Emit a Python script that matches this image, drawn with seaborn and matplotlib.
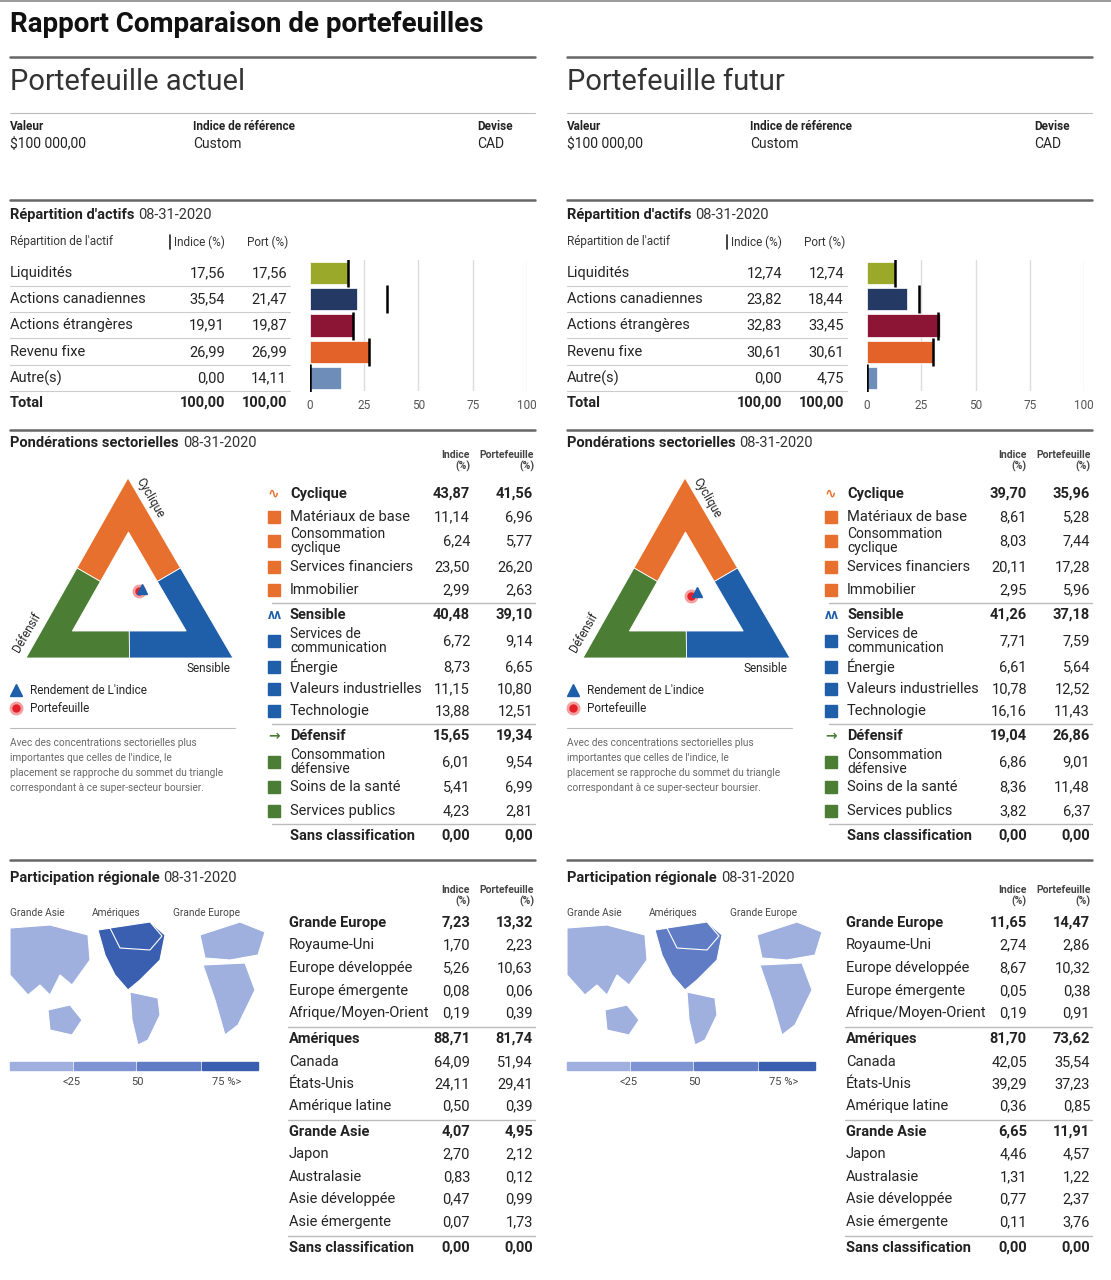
import matplotlib
matplotlib.use("Agg")
import matplotlib.pyplot as plt
import seaborn as sns
import pandas as pd
import numpy as np
from matplotlib.patches import Polygon, Rectangle
from matplotlib.lines import Line2D
from matplotlib import font_manager

# ---------------- DATA ----------------
asset_classes = ["Liquidités", "Actions canadiennes", "Actions étrangères", "Revenu fixe", "Autre(s)"]
asset_index_actuel = [17.56, 35.54, 19.91, 26.99, 0.00]
asset_port_actuel = [17.56, 21.47, 19.87, 26.99, 14.11]
asset_index_futur = [12.74, 23.82, 32.83, 30.61, 0.00]
asset_port_futur = [12.74, 18.44, 33.45, 30.61, 4.75]
asset_totals = ["100,00", "100,00"]
asset_colors = ["#9aa92a", "#243963", "#8c1434", "#e2622a", "#6e8db8"]
bar_ticks = [0, 25, 50, 75, 100]

sector_labels = ["Cyclique", "Matériaux de base", "Consommation\ncyclique", "Services financiers", "Immobilier",
                 "Sensible", "Services de\ncommunication", "Énergie", "Valeurs industrielles", "Technologie",
                 "Défensif", "Consommation\ndéfensive", "Soins de la santé", "Services publics",
                 "Sans classification"]
sector_group = ["C", "C", "C", "C", "C", "S", "S", "S", "S", "S", "D", "D", "D", "D", "N"]
sector_bold = [True, False, False, False, False, True, False, False, False, False, True, False, False, False, True]
sector_index_actuel = [43.87, 11.14, 6.24, 23.50, 2.99, 40.48, 6.72, 8.73, 11.15, 13.88, 15.65, 6.01, 5.41, 4.23, 0.00]
sector_port_actuel = [41.56, 6.96, 5.77, 26.20, 2.63, 39.10, 9.14, 6.65, 10.80, 12.51, 19.34, 9.54, 6.99, 2.81, 0.00]
sector_index_futur = [39.70, 8.61, 8.03, 20.11, 2.95, 41.26, 7.71, 6.61, 10.78, 16.16, 19.04, 6.86, 8.36, 3.82, 0.00]
sector_port_futur = [35.96, 5.28, 7.44, 17.28, 5.96, 37.18, 7.59, 5.64, 12.52, 11.43, 26.86, 9.01, 11.48, 6.37, 0.00]

region_labels = ["Grande Europe", "Royaume-Uni", "Europe développée", "Europe émergente", "Afrique/Moyen-Orient",
                 "Amériques", "Canada", "États-Unis", "Amérique latine",
                 "Grande Asie", "Japon", "Australasie", "Asie développée", "Asie émergente", "Sans classification"]
region_bold = [True, False, False, False, False, True, False, False, False, True, False, False, False, False, True]
region_index_actuel = [7.23, 1.70, 5.26, 0.08, 0.19, 88.71, 64.09, 24.11, 0.50, 4.07, 2.70, 0.83, 0.47, 0.07, 0.00]
region_port_actuel = [13.32, 2.23, 10.63, 0.06, 0.39, 81.74, 51.94, 29.41, 0.39, 4.95, 2.12, 0.12, 0.99, 1.73, 0.00]
region_index_futur = [11.65, 2.74, 8.67, 0.05, 0.19, 81.70, 42.05, 39.29, 0.36, 6.65, 4.46, 1.31, 0.77, 0.11, 0.00]
region_port_futur = [14.47, 2.86, 10.32, 0.38, 0.91, 73.62, 35.54, 37.23, 0.85, 11.91, 4.57, 1.22, 2.37, 3.76, 0.00]

map_scale_labels = ["<25", "50", "75 %>"]
map_scale_colors = ["#9fb0df", "#7f95d3", "#5f7cc4", "#3a5fb0"]

# ---------------- STYLE ----------------
avail = {f.name for f in font_manager.fontManager.ttflist}
fam = [f for f in ["Liberation Sans Narrow", "DejaVu Sans Condensed", "Roboto", "DejaVu Sans"] if f in avail]
plt.rcParams["font.family"] = fam
sns.set_theme(style="white", rc={"font.family": fam})

W, H = 1111, 1280
fig = plt.figure(figsize=(W / 100, H / 100), dpi=100)
fig.patch.set_facecolor("white")
renderer = fig.canvas.get_renderer()
TXT = "#222222"
FS = 10.5


def X(px): return px / W
def Y(py): return 1 - py / H


def txt(x, y, s, size=FS, weight="normal", ha="left", color=TXT, va="center", **kw):
    return fig.text(X(x), Y(y), s, fontsize=size, fontweight=weight, ha=ha, va=va, color=color, **kw)


def titled(x, y, bold, rest):
    t = txt(x, y, bold, size=10.5, weight="bold")
    w = t.get_window_extent(renderer).width
    txt(x + w + 4, y, rest, size=10.5, color="#333333")


def hline(x0, x1, y, lw=1.0, color="#bbbbbb"):
    fig.add_artist(Line2D([X(x0), X(x1)], [Y(y), Y(y)], lw=lw, color=color, transform=fig.transFigure))


def fmt(v):
    return f"{v:.2f}".replace(".", ",")


C_ORANGE, C_BLUE, C_GREEN = "#e8702e", "#1f5ea8", "#4b7d34"

hline(0, 1111, 1, 1.2, "#888888")
txt(10, 24, "Rapport Comparaison de portefeuilles", size=20, weight="bold", color="#111111")


def panel(ox, title, a_idx, a_port, a_tot, s_idx, s_port, r_idx, r_port):
    hline(ox, ox + 525, 57, 1.8, "#666666")
    txt(ox, 82, title, size=21, color="#333333")
    hline(ox, ox + 525, 113, 0.8, "#bbbbbb")
    txt(ox, 127, "Valeur", size=8.5, weight="bold")
    txt(ox, 144, "$100 000,00", size=10)
    txt(ox + 183, 127, "Indice de référence", size=8.5, weight="bold")
    txt(ox + 183, 144, "Custom", size=10)
    txt(ox + 467, 127, "Devise", size=8.5, weight="bold")
    txt(ox + 467, 144, "CAD", size=10)

    # --- asset allocation
    hline(ox, ox + 525, 200, 1.8, "#666666")
    titled(ox, 215, "Répartition d'actifs", "08-31-2020")
    txt(ox, 242, "Répartition de l'actif", size=8.5, color="#333333")
    txt(ox + 215, 242, "Indice (%)", size=8.5, ha="right", color="#333333")
    fig.add_artist(Line2D([X(ox + 160)] * 2, [Y(235), Y(249)], lw=1.2, color="#222222"))
    txt(ox + 278, 242, "Port (%)", size=8.5, ha="right", color="#333333")
    rows_y = [273, 299, 325, 352, 378]
    for i, name in enumerate(asset_classes):
        txt(ox, rows_y[i], name)
        txt(ox + 215, rows_y[i], fmt(a_idx[i]), ha="right")
        txt(ox + 277, rows_y[i], fmt(a_port[i]), ha="right")
        hline(ox, ox + 280, rows_y[i] + 13, 0.8, "#cccccc")
    txt(ox, 403, "Total", weight="bold")
    txt(ox + 215, 403, a_tot, ha="right", weight="bold")
    txt(ox + 277, 403, a_tot, ha="right", weight="bold")

    ax = fig.add_axes([X(ox + 300), Y(391), X(217), 131 / H])
    df = pd.DataFrame({"cls": asset_classes, "port": a_port})
    sns.barplot(data=df, y="cls", x="port", hue="cls", palette=asset_colors, legend=False, saturation=1,
                orient="h", ax=ax, width=0.84, edgecolor="white", linewidth=0.5)
    ax.scatter(a_idx, range(len(asset_classes)), marker="|", s=380, color="black", linewidths=1.8, zorder=5)
    ax.set_xlim(0, 100)
    ax.set_ylim(4.5, -0.5)
    ax.set_xticks(bar_ticks)
    ax.set_xticklabels([str(t) for t in bar_ticks], fontsize=8.5, color="#555555")
    ax.set_yticks([])
    ax.set_xlabel("")
    ax.set_ylabel("")
    for t in bar_ticks[1:]:
        ax.axvline(t, color="#dddddd", lw=1, zorder=0)
    for sp in ax.spines.values():
        sp.set_visible(False)
    ax.tick_params(axis="x", length=0, pad=6)
    ax.set_axisbelow(True)

    # --- sectors
    hline(ox, ox + 525, 430, 1.8, "#666666")
    titled(ox, 443, "Pondérations sectorielles", "08-31-2020")
    for cx, lab in [(ox + 460, "Indice\n(%)"), (ox + 524, "Portefeuille\n(%)")]:
        txt(cx, 461, lab, size=7.5, ha="right", weight="bold", color="#444444", linespacing=1.0)
    sec_y = [494, 517, 541, 567, 590, 615, 641, 667, 689, 711, 736, 762, 787, 811, 836]
    gcol = {"C": C_ORANGE, "S": C_BLUE, "D": C_GREEN}
    for i, lab in enumerate(sector_labels):
        y = sec_y[i]
        g = sector_group[i]
        b = "bold" if sector_bold[i] else "normal"
        if sector_bold[i]:
            if i > 0:
                hline(ox + 262, ox + 525, y - 12, 1.0, "#bbbbbb")
            if g in gcol:
                txt(ox + 258, y, "∿" if g == "C" else ("ʌʌ" if g == "S" else "→"), size=10,
                    weight="bold", color=gcol[g])
        else:
            fig.add_artist(Rectangle((X(ox + 258), Y(y + 6)), X(12), 12 / H, color=gcol[g],
                                     transform=fig.transFigure))
        txt(ox + 280, y, lab, size=FS if "\n" not in lab else 10, weight=b, linespacing=1.0)
        txt(ox + 460, y, fmt(s_idx[i]), ha="right", weight=b)
        txt(ox + 523, y, fmt(s_port[i]), ha="right", weight=b)

    # triangle
    A = np.array([ox + 118, 478.0]); BL = np.array([ox + 16, 658.0]); BR = np.array([ox + 223, 658.0])
    cen = (A + BL + BR) / 3
    IA = cen + (A - cen) * 0.55; IBL = cen + (BL - cen) * 0.55; IBR = cen + (BR - cen) * 0.55
    mL = (A + BL) / 2; mR = (A + BR) / 2; mB = (BL + BR) / 2
    iL = (IA + IBL) / 2; iR = (IA + IBR) / 2; iB = (IBL + IBR) / 2
    P = lambda p: (X(p[0]), Y(p[1]))
    for pts, col in [([A, mR, iR, IA, iL, mL], C_ORANGE),
                     ([mL, iL, IBL, iB, mB, BL], C_GREEN),
                     ([mR, BR, mB, iB, IBR, iR], C_BLUE)]:
        fig.add_artist(Polygon([P(p) for p in pts], closed=True, facecolor=col, edgecolor="white",
                               lw=0.6, transform=fig.transFigure))
    txt(ox + 140, 498, "Cyclique", size=8.5, rotation=-60, ha="center")
    txt(ox + 17, 632, "Défensif", size=8.5, rotation=60, ha="center")
    txt(ox + 220, 669, "Sensible", size=8.5, ha="right")

    def tern(c, s, d):
        tot = c + s + d
        bb = (A * c + BR * s + BL * d) / tot
        return cen + (bb - cen) * 0.5
    pi = tern(s_idx[0], s_idx[5], s_idx[10]); pp = tern(s_port[0], s_port[5], s_port[10])

    def mk(x, y, m, ms, c):
        fig.add_artist(Line2D([X(x)], [Y(y)], marker=m, ms=ms, color=c, transform=fig.transFigure))
    mk(pp[0], pp[1], "o", 9, "#f4a0a0"); mk(pp[0], pp[1], "o", 5, "#e3202a")
    mk(pi[0], pi[1], "^", 7, C_BLUE)
    mk(ox + 6, 690, "^", 8, C_BLUE)
    txt(ox + 20, 690, "Rendement de L'indice", size=8.5)
    mk(ox + 6, 708, "o", 9, "#f4a0a0"); mk(ox + 6, 708, "o", 5, "#e3202a")
    txt(ox + 20, 708, "Portefeuille", size=8.5)
    hline(ox, ox + 225, 728, 0.8, "#bbbbbb")
    for k, line in enumerate(["Avec des concentrations sectorielles plus",
                              "importantes que celles de l'indice, le",
                              "placement se rapproche du sommet du triangle",
                              "correspondant à ce super-secteur boursier."]):
        txt(ox, 743 + k * 15, line, size=7.3, color="#666666")

    # --- regions
    hline(ox, ox + 525, 860, 1.8, "#666666")
    titled(ox, 878, "Participation régionale", "08-31-2020")
    for cx, lab in [(ox + 460, "Indice\n(%)"), (ox + 524, "Portefeuille\n(%)")]:
        txt(cx, 896, lab, size=7.5, ha="right", weight="bold", color="#444444", linespacing=1.0)
    reg_y = [923, 945, 968, 991, 1013, 1039, 1062, 1084, 1106, 1132, 1154, 1177, 1199, 1222, 1248]
    for i, lab in enumerate(region_labels):
        y = reg_y[i]
        b = "bold" if region_bold[i] else "normal"
        if region_bold[i] and i > 0:
            hline(ox + 278, ox + 525, y - 12, 1.0, "#bbbbbb")
        txt(ox + 279, y, lab, weight=b)
        txt(ox + 460, y, fmt(r_idx[i]), ha="right", weight=b)
        txt(ox + 523, y, fmt(r_port[i]), ha="right", weight=b)

    txt(ox, 913, "Grande Asie", size=7.3, color="#444444")
    txt(ox + 82, 913, "Amériques", size=7.3, color="#444444")
    txt(ox + 163, 913, "Grande Europe", size=7.3, color="#444444")

    def shade(v):
        return map_scale_colors[min(3, int(v // 25))]
    ca, cm, ce = shade(r_port[9]), shade(r_port[5]), shade(r_port[0])
    asia = [(0, 928), (40, 925), (78, 935), (80, 960), (62, 985), (50, 975), (40, 995), (30, 985), (18, 995), (0, 975)]
    aus = [(38, 1010), (60, 1005), (72, 1020), (62, 1035), (40, 1030)]
    nam = [(88, 930), (140, 922), (155, 935), (150, 960), (130, 980), (118, 990), (105, 975), (95, 955)]
    can = [(100, 928), (140, 922), (152, 936), (140, 950), (110, 948)]
    sam = [(120, 992), (148, 998), (150, 1015), (138, 1040), (128, 1045), (122, 1020)]
    eur = [(190, 935), (230, 922), (255, 932), (248, 955), (220, 960), (195, 958)]
    afr = [(193, 965), (235, 963), (245, 990), (228, 1025), (215, 1035), (205, 1000)]
    for poly, col in [(asia, ca), (aus, ca), (nam, cm), (can, map_scale_colors[3] if r_port[6] > 40 else cm),
                      (sam, map_scale_colors[0]), (eur, ce), (afr, map_scale_colors[0])]:
        fig.add_artist(Polygon([(X(ox + a), Y(b)) for a, b in poly], closed=True, facecolor=col,
                               edgecolor="white", lw=0.8, transform=fig.transFigure))
    segs = [(0, 62), (64, 125), (127, 190), (192, 248)]
    for (a, b), col in zip(segs, map_scale_colors):
        fig.add_artist(Rectangle((X(ox + a), Y(1070)), X(b - a), 8 / H, color=col, transform=fig.transFigure))
    for xx, lab in zip([62, 127, 202], map_scale_labels):
        txt(ox + xx, 1082, lab, size=8, color="#444444", ha="center" if lab != "75 %>" else "left")


panel(10, "Portefeuille actuel", asset_index_actuel, asset_port_actuel, asset_totals[0], sector_index_actuel,
      sector_port_actuel, region_index_actuel, region_port_actuel)
panel(567, "Portefeuille futur", asset_index_futur, asset_port_futur, asset_totals[1], sector_index_futur,
      sector_port_futur, region_index_futur, region_port_futur)

fig.savefig("out.png", dpi=100, facecolor="white")
